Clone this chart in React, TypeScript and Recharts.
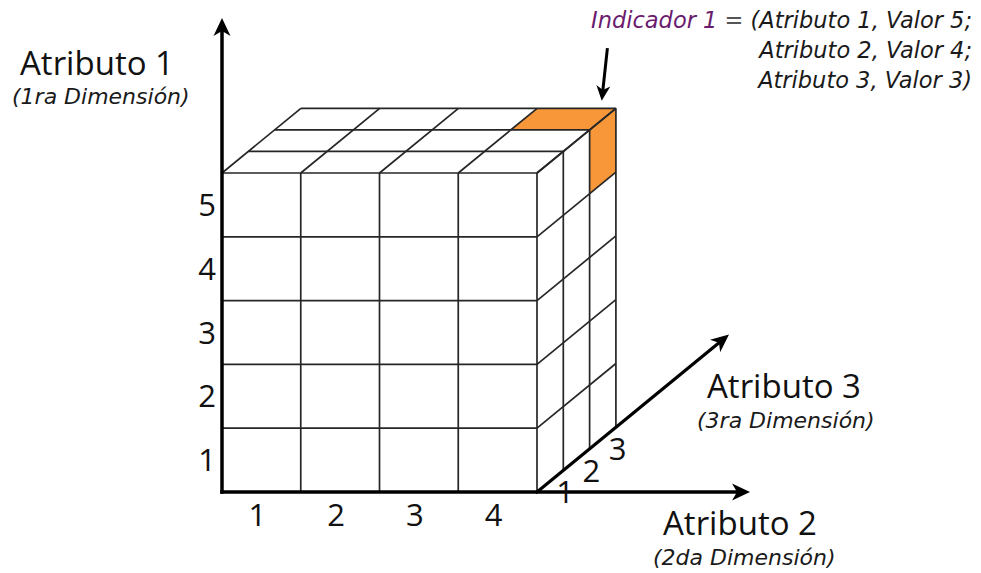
import { ComposedChart, Area, XAxis, YAxis, ReferenceLine, Scatter } from "recharts";

const rowLabels = ["1", "2", "3", "4", "5"];
const colLabels = ["1", "2", "3", "4"];
const depthLabels = ["1", "2", "3"];
// cell named by the annotation: Atributo 1 = 5, Atributo 2 = 4, Atributo 3 = 3
const indicatorCell = [5, 4, 3];
const axisTitles = ["Atributo 1", "Atributo 2", "Atributo 3"];
const axisSubtitles = ["(1ra Dimensión)", "(2da Dimensión)", "(3ra Dimensión)"];
const indicatorName = "Indicador 1";
const indicatorLines = ["= (Atributo 1, Valor 5;", "Atributo 2, Valor 4;", "Atributo 3, Valor 3)"];

const W = 981;
const H = 573;
const ORIGIN_X = 222;
const ORIGIN_Y = 492;
const CELL_W = 78.75;
const CELL_H = 63.8;
// oblique step of one depth layer, in cell units
const DX = 0.334;
const DY = 0.338;

const X_DOMAIN = [-ORIGIN_X / CELL_W, (W - ORIGIN_X) / CELL_W];
const Y_DOMAIN = [(ORIGIN_Y - H) / CELL_H, ORIGIN_Y / CELL_H];

const FONT = "'Open Sans', 'DejaVu Sans', sans-serif";
const ITALIC_FONT = "'DejaVu Sans', sans-serif";
const LINE = "#262626";
const ORANGE = "#f7973a";

const proj = (c: number, r: number, d: number) => ({ x: c + d * DX, y: r + d * DY });

const nRows = rowLabels.length;
const nCols = colLabels.length;
const nDepth = depthLabels.length;

// cube wire frame
const gridSegments: { x: number; y: number }[][] = [];
for (let r = 1; r <= nRows; r++) gridSegments.push([proj(0, r, 0), proj(nCols, r, 0)]);
for (let c = 1; c <= nCols; c++) gridSegments.push([proj(c, 0, 0), proj(c, nRows, 0)]);
for (let d = 1; d <= nDepth; d++) gridSegments.push([proj(0, nRows, d), proj(nCols, nRows, d)]);
for (let c = 0; c <= nCols; c++) gridSegments.push([proj(c, nRows, 0), proj(c, nRows, nDepth)]);
for (let d = 1; d <= nDepth; d++) gridSegments.push([proj(nCols, 0, d), proj(nCols, nRows, d)]);
for (let r = 1; r <= nRows; r++) gridSegments.push([proj(nCols, r, 0), proj(nCols, r, nDepth)]);

// orange top + side face of the indicator cell, as one ranged area
const [vr, vc, vd] = indicatorCell;
const top = vr, bottom = vr - 1, left = vc - 1, right = vc, front = vd - 1, back = vd;
const indicatorFace = [
  { x: left + front * DX, range: [top + front * DY, top + front * DY] },
  { x: left + back * DX, range: [top + front * DY, top + back * DY] },
  { x: right + front * DX, range: [top + front * DY, top + back * DY] },
  { x: right + front * DX, range: [bottom + front * DY, top + back * DY] },
  { x: right + back * DX, range: [bottom + back * DY, top + back * DY] },
];

const corner = proj(right, top, back);

const tickPoints = [
  ...rowLabels.map((label, i) => ({ x: -0.19, y: i + 0.5, label })),
  ...colLabels.map((label, i) => ({ x: i + 0.45, y: -0.36, label })),
  ...depthLabels.map((label, i) => {
    const p = proj(nCols, 0, i + 0.5);
    return { x: p.x + 0.19, y: p.y - 0.17, label };
  }),
];

const renderTick = (props: any) => {
  const { cx, cy, payload } = props;
  return (
    <text x={cx} y={cy} dy="0.36em" textAnchor="middle" fontSize={31} fontFamily={FONT} fill="#111">
      {payload.label}
    </text>
  );
};

const arrowShape = (headLen: number, halfW: number, width: number) => (props: any) => {
  const { x1, y1, x2, y2 } = props;
  const len = Math.hypot(x2 - x1, y2 - y1) || 1;
  const ux = (x2 - x1) / len;
  const uy = (y2 - y1) / len;
  const nx = -uy;
  const ny = ux;
  const bx = x2 - ux * headLen;
  const by = y2 - uy * headLen;
  const mx = x2 - ux * headLen * 0.72;
  const my = y2 - uy * headLen * 0.72;
  return (
    <g>
      <line x1={x1} y1={y1} x2={mx} y2={my} stroke="#000" strokeWidth={width} strokeLinecap="square" />
      <path
        d={`M${x2},${y2} L${bx + nx * halfW},${by + ny * halfW} L${mx},${my} L${bx - nx * halfW},${by - ny * halfW} Z`}
        fill="#000"
      />
    </g>
  );
};

const arrows = [
  { seg: [{ x: 0, y: 0 }, { x: 0, y: 7.43 }], shape: arrowShape(18, 8.5, 3.5) },
  { seg: [{ x: 0, y: 0 }, { x: 6.705, y: 0 }], shape: arrowShape(18, 8.5, 3.5) },
  { seg: [proj(nCols, 0, 0), proj(nCols, 0, 7.3)], shape: arrowShape(18, 8, 3.2) },
  {
    seg: [
      { x: corner.x - 0.11, y: corner.y + 0.92 },
      { x: corner.x - 0.18, y: corner.y + 0.12 },
    ],
    shape: arrowShape(15, 7, 3),
  },
];

export default function App() {
  return (
    <div style={{ position: "absolute", left: 0, top: 0, width: W, height: H, background: "#fff" }}>
      <ComposedChart width={W} height={H} data={indicatorFace} margin={{ top: 0, right: 0, bottom: 0, left: 0 }}>
        <XAxis type="number" dataKey="x" domain={X_DOMAIN} hide allowDataOverflow />
        <YAxis type="number" dataKey="y" domain={Y_DOMAIN} hide allowDataOverflow />
        <Area
          type="linear"
          dataKey="range"
          fill={ORANGE}
          fillOpacity={1}
          stroke="none"
          isAnimationActive={false}
        />
        {gridSegments.map((s, i) => (
          <ReferenceLine key={`g${i}`} segment={s} stroke={LINE} strokeWidth={1.7} ifOverflow="visible" />
        ))}
        {arrows.map((a, i) => (
          <ReferenceLine key={`a${i}`} segment={a.seg} shape={a.shape} ifOverflow="visible" />
        ))}
        <Scatter data={tickPoints} dataKey="y" shape={renderTick} isAnimationActive={false} />
      </ComposedChart>
      <svg width={W} height={H} style={{ position: "absolute", left: 0, top: 0, pointerEvents: "none" }}>
        <g fontFamily={FONT} fill="#111">
          <text x={20} y={75} fontSize={33}>{axisTitles[0]}</text>
          <text x={663} y={535} fontSize={33}>{axisTitles[1]}</text>
          <text x={707} y={398} fontSize={33}>{axisTitles[2]}</text>
        </g>
        <g fontFamily={ITALIC_FONT} fontStyle="oblique" fill="#1a1a1a">
          <text x={12} y={104} fontSize={22}>{axisSubtitles[0]}</text>
          <text x={653} y={565} fontSize={22}>{axisSubtitles[1]}</text>
          <text x={697} y={428} fontSize={22}>{axisSubtitles[2]}</text>
          <text x={972} y={28} fontSize={22.5} textAnchor="end">
            <tspan fill="#6a1b6e">{indicatorName}</tspan>
            <tspan fill="#555"> = </tspan>
            <tspan>{indicatorLines[0].slice(2)}</tspan>
          </text>
          <text x={972} y={58} fontSize={22.5} textAnchor="end">{indicatorLines[1]}</text>
          <text x={972} y={88} fontSize={22.5} textAnchor="end">{indicatorLines[2]}</text>
        </g>
      </svg>
    </div>
  );
}
